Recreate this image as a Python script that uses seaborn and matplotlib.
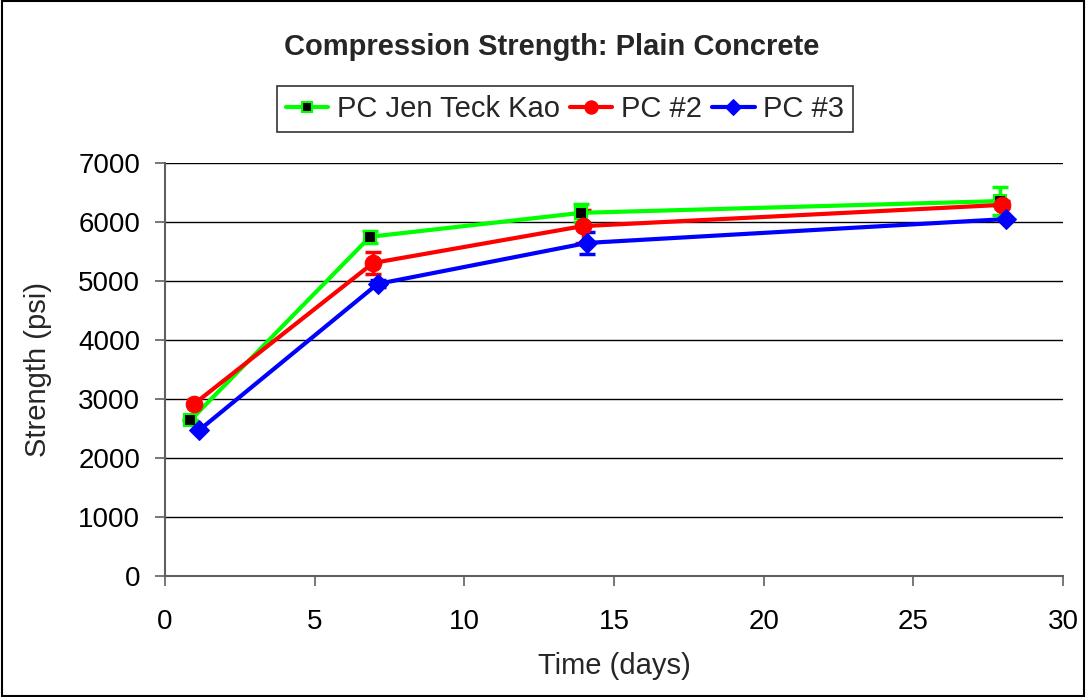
import matplotlib
matplotlib.use("Agg")
import matplotlib.pyplot as plt
import seaborn as sns
import pandas as pd
import numpy as np

series_names = ["PC Jen Teck Kao", "PC #2", "PC #3"]
x_green = [0.85, 6.85, 13.9, 27.9]
y_green = [2640, 5750, 6155, 6355]
e_green = [0, 100, 150, 240]
x_red = [0.97, 6.95, 13.95, 27.95]
y_red = [2915, 5305, 5930, 6290]
e_red = [0, 190, 280, 60]
x_blue = [1.15, 7.1, 14.1, 28.1]
y_blue = [2475, 4950, 5645, 6050]
e_blue = [0, 60, 190, 0]

colors = ["#00ff00", "#ff0000", "#0000ff"]

rows = []
for name, xs, ys in zip(series_names, [x_green, x_red, x_blue], [y_green, y_red, y_blue]):
    for xv, yv in zip(xs, ys):
        rows.append({"series": name, "Time": xv, "Strength": yv})
df = pd.DataFrame(rows)

sns.set_theme(style="white")
plt.rcParams['font.family'] = ['Liberation Sans', 'DejaVu Sans']

fig = plt.figure(figsize=(10.86, 6.97), dpi=100)
ax = fig.add_axes([165/1086, 1-576/697, (1063-165)/1086, (576-163)/697])

for name, xs, ys, es, c in zip(series_names, [x_green, x_red, x_blue], [y_green, y_red, y_blue],
                               [e_green, e_red, e_blue], colors):
    ax.errorbar(xs, ys, yerr=es, fmt='none', ecolor=c, elinewidth=2.5, capsize=6, capthick=2.5, zorder=2)

marker_kw = {
    "PC Jen Teck Kao": dict(marker='s', markersize=9, markerfacecolor='black', markeredgecolor='#00ff00', markeredgewidth=1.5),
    "PC #2": dict(marker='o', markersize=12, markerfacecolor='#ff0000', markeredgecolor='#ff0000'),
    "PC #3": dict(marker='D', markersize=10, markerfacecolor='#0000ff', markeredgecolor='#0000ff'),
}
for name, c in zip(series_names, colors):
    sub = df[df.series == name]
    sns.lineplot(data=sub, x="Time", y="Strength", ax=ax, color=c, linewidth=3,
                 label=name, sort=False, estimator=None, zorder=3, **marker_kw[name])

ax.set_xlim(0, 30)
ax.set_ylim(0, 7000)
ax.set_xticks(range(0, 31, 5))
ax.set_yticks(range(0, 7001, 1000))
ax.yaxis.grid(True, color='black', linewidth=1)
ax.xaxis.grid(False)
for s in ['top', 'right']:
    ax.spines[s].set_visible(False)
for s in ['left', 'bottom']:
    ax.spines[s].set_color('#606060')
    ax.spines[s].set_linewidth(1.5)
ax.tick_params(axis='both', which='both', direction='out', length=7, width=1.2, color='#606060',
               labelsize=20, labelcolor='black', bottom=True, left=True)
ax.tick_params(axis='x', pad=17)
ax.tick_params(axis='y', pad=11)
ax.set_xlabel("Time (days)", fontsize=21, labelpad=12)
ax.set_ylabel("Strength (psi)", fontsize=21, labelpad=19)

fig.text(0.508, 1-47/697, "Compression Strength: Plain Concrete", ha='center', va='center',
         fontsize=21, fontweight='bold')

leg = ax.legend(loc='center', bbox_to_anchor=((565-165)/(1063-165), (576-109)/(576-163)),
                ncol=3, frameon=True, fontsize=21, handlelength=1.45, columnspacing=0.35,
                handletextpad=0.3, borderpad=0.3, fancybox=False, borderaxespad=0,
                markerscale=0.8)
leg.get_frame().set_edgecolor('black')
leg.get_frame().set_linewidth(1.2)

fig.patches.append(plt.Rectangle((0.002, 0.002), 0.996, 0.996, transform=fig.transFigure,
                                 fill=False, edgecolor='black', linewidth=1.5))

fig.savefig("out.png", dpi=100)
